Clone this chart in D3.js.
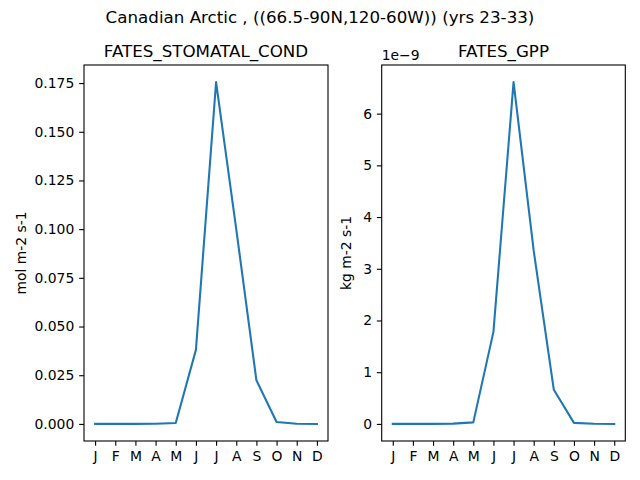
<!DOCTYPE html>
<html>
<head>
<meta charset="utf-8">
<script src="https://cdn.jsdelivr.net/npm/d3@7"></script>
<style>
  body { margin: 0; background: #fff; }
  text { font-family: "DejaVu Sans", sans-serif; fill: #000; }
</style>
</head>
<body>
<div id="chart"></div>
<script>
var months = ["J", "F", "M", "A", "M", "J", "J", "A", "S", "O", "N", "D"];
var stomatalCond = [0, 0, 0, 0.0001, 0.0005, 0.038, 0.1755, 0.100, 0.0224, 0.001, 0.0001, 0];
var gpp = [0, 0, 0, 0.005e-9, 0.03e-9, 1.78e-9, 6.61e-9, 3.35e-9, 0.66e-9, 0.02e-9, 0.003e-9, 0];
var condTicks = [0, 0.025, 0.05, 0.075, 0.1, 0.125, 0.15, 0.175];
var gppTicks = [0, 1e-9, 2e-9, 3e-9, 4e-9, 5e-9, 6e-9];

var W = 640, H = 480;
var tickLen = 4.86, tickPad = 4.86;

var svg = d3.select("#chart").append("svg")
    .attr("width", W)
    .attr("height", H);

svg.append("text")
    .attr("x", W / 2)
    .attr("y", 22.5)
    .attr("text-anchor", "middle")
    .style("font-size", "16.7px")
    .text("Canadian Arctic , ((66.5-90N,120-60W)) (yrs 23-33)");

function drawPanel(values, ticks, fmt, box, title, ylabel, ylabelX, offsetText) {
    var ext = d3.extent(values);
    var pad = (ext[1] - ext[0]) * 0.05;

    var x = d3.scaleLinear()
        .domain([-0.55, months.length - 1 + 0.55])
        .range([box.left, box.right]);
    var y = d3.scaleLinear()
        .domain([ext[0] - pad, ext[1] + pad])
        .range([box.bottom, box.top]);

    var g = svg.append("g");

    // y axis
    var yAxis = d3.axisLeft(y)
        .tickValues(ticks)
        .tickSize(tickLen)
        .tickPadding(tickPad)
        .tickFormat(fmt);
    var ya = g.append("g")
        .attr("transform", "translate(" + box.left + ",0)")
        .call(yAxis);
    ya.select(".domain").remove();

    // x axis
    var xAxis = d3.axisBottom(x)
        .tickValues(d3.range(months.length))
        .tickSize(tickLen)
        .tickPadding(tickPad)
        .tickFormat(function(i) { return months[i]; });
    var xa = g.append("g")
        .attr("transform", "translate(0," + box.bottom + ")")
        .call(xAxis);
    xa.select(".domain").remove();

    g.selectAll(".tick line").attr("stroke", "#000").attr("stroke-width", 1.1);
    g.selectAll(".tick text")
        .style("font-family", "DejaVu Sans, sans-serif")
        .style("font-size", "13.9px")
        .attr("fill", "#000");

    var line = d3.line()
        .x(function(d, i) { return x(i); })
        .y(function(d) { return y(d); });

    g.append("path")
        .datum(values)
        .attr("d", line)
        .attr("fill", "none")
        .attr("stroke", "#1f77b4")
        .attr("stroke-width", 2.08)
        .attr("stroke-linejoin", "round")
        .attr("stroke-linecap", "square");

    // frame
    g.append("rect")
        .attr("x", box.left)
        .attr("y", box.top)
        .attr("width", box.right - box.left)
        .attr("height", box.bottom - box.top)
        .attr("fill", "none")
        .attr("stroke", "#000")
        .attr("stroke-width", 1.1);

    g.append("text")
        .attr("x", (box.left + box.right) / 2)
        .attr("y", box.top - 8.3)
        .attr("text-anchor", "middle")
        .style("font-size", "16.7px")
        .text(title);

    g.append("text")
        .attr("transform", "translate(" + ylabelX + "," + ((box.top + box.bottom) / 2) + ") rotate(-90)")
        .attr("text-anchor", "middle")
        .style("font-size", "13.9px")
        .text(ylabel);

    if (offsetText) {
        g.append("text")
            .attr("x", box.left)
            .attr("y", box.top - 5)
            .style("font-size", "13.9px")
            .text(offsetText);
    }
}

drawPanel(stomatalCond, condTicks, d3.format(".3f"),
    {left: 84, right: 328, top: 65, bottom: 441},
    "FATES_STOMATAL_COND", "mol m-2 s-1", 26, null);

drawPanel(gpp, gppTicks, function(d) { return Math.round(d / 1e-9); },
    {left: 381.7, right: 625.3, top: 65, bottom: 441},
    "FATES_GPP", "kg m-2 s-1", 351, "1e\u22129");
</script>
</body>
</html>
